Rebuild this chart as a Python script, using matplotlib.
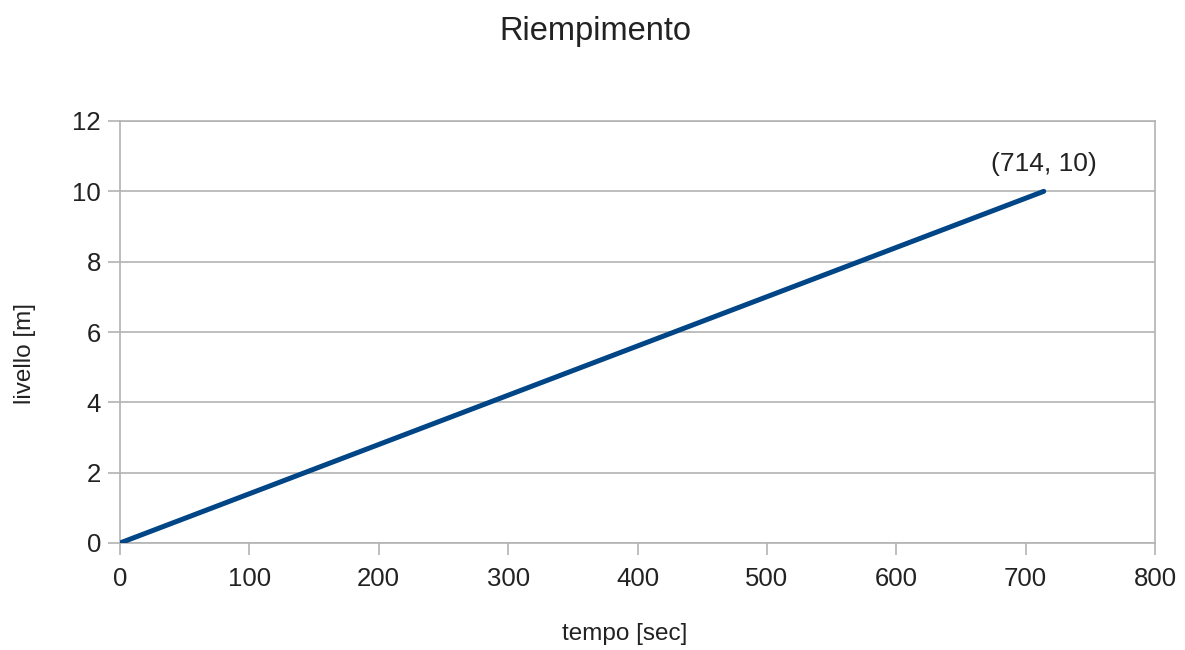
import matplotlib
matplotlib.use("Agg")
import matplotlib.pyplot as plt

tempo = [0, 714]
livello = [0, 10]
x_ticks = [0, 100, 200, 300, 400, 500, 600, 700, 800]
y_ticks = [0, 2, 4, 6, 8, 10, 12]

plt.rcParams['font.family'] = ['Liberation Sans', 'DejaVu Sans']

fig = plt.figure(figsize=(11.85, 6.5), dpi=100)
ax = fig.add_axes([120/1185, 1-543/650, (1155-120)/1185, (543-121)/650])

ax.plot(tempo, livello, color='#004586', linewidth=3.6, solid_capstyle='round', zorder=3)
ax.annotate(f"({tempo[-1]}, {livello[-1]})", xy=(tempo[-1], livello[-1]), xytext=(0, 20),
            textcoords='offset points', ha='center', va='center', fontsize=19, color='#222222')

ax.set_xlim(0, 800)
ax.set_ylim(0, 12)
ax.set_xticks(x_ticks)
ax.set_yticks(y_ticks)
ax.tick_params(axis='both', labelsize=18.5, colors='#b3b3b3', labelcolor='#222222',
               length=8.6, width=1.2, direction='out')
ax.tick_params(axis='y', pad=5)
ax.tick_params(axis='x', pad=9)
ax.grid(axis='y', color='#b3b3b3', linewidth=1.2)
ax.set_axisbelow(True)
for s in ax.spines.values():
    s.set_color('#b3b3b3')
    s.set_linewidth(1.2)

fig.text(595/1185, 1-40/650, 'Riempimento', ha='center', va='baseline', fontsize=23.5, color='#222222')
fig.text(625/1185, 1-634/650, 'tempo [sec]', ha='center', va='center', fontsize=17.5, color='#222222')
fig.text(25/1185, 1-354/650, 'livello [m]', ha='center', va='center', fontsize=17.5, rotation=90, color='#222222')

fig.savefig('out.png', dpi=100)
